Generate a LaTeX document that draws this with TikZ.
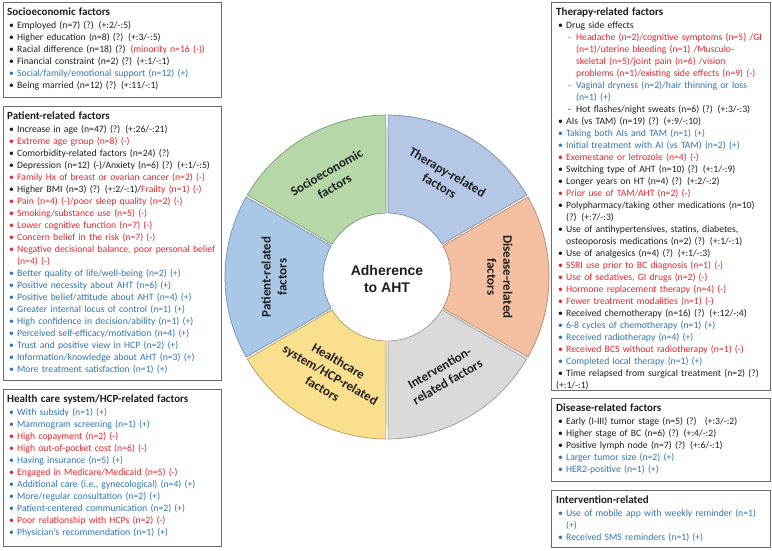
\documentclass[tikz,border=0pt]{standalone}
\usepackage{fontspec}
\setmainfont{Carlito}
\newfontfamily\hubfont{Liberation Sans}
\definecolor{ink}{HTML}{1E1E1E}
\definecolor{neg}{HTML}{E8262B}
\definecolor{pos}{HTML}{2E75B6}
\definecolor{frame}{HTML}{6A6A6A}
\definecolor{socio}{HTML}{B6D7A8}
\definecolor{therapy}{HTML}{B4C7E7}
\definecolor{disease}{HTML}{F5C0A2}
\definecolor{interv}{HTML}{DADADA}
\definecolor{health}{HTML}{FADF8E}
\definecolor{patient}{HTML}{A9C8E8}
\tikzset{
  panel/.style={draw=frame, line width=1.4pt, fill=white, anchor=north west,
                inner sep=0pt},
  % the list itself sits on the panel, top left, with no frame of its own
  factors/.style={anchor=north west, inner sep=0pt, text width=212pt,
                  text=ink, font=\listfont},
  segment/.style={line width=0.7pt},
  seglabel/.style={font=\fontsize{13}{16}\selectfont\bfseries, align=center,
                   text=ink, inner sep=1pt},
  hub/.style={font=\hubfont\bfseries\fontsize{14}{17}\selectfont, align=center,
              text=ink},
}
\newcommand{\listfont}{\fontsize{9.7}{12}\selectfont\raggedright}
\newcommand{\head}[1]{{\fontsize{11}{12}\selectfont\bfseries #1}\par\vspace{0.6pt}}
% one bullet per factor; the colour gives the direction of the effect
\newcommand{\fitem}[2][ink]{\par\hangindent=10pt\hangafter=1\noindent
  {\color{#1}\hbox to 10pt{\hspace{2pt}\textbullet\hfil}#2}}
\newcommand{\fsub}[2][ink]{\par\hangindent=20pt\hangafter=1\noindent
  {\color{#1}\hbox to 20pt{\hspace{12pt}-\hfil}#2}}

\begin{document}
\begin{tikzpicture}[x=1pt, y=1pt]
  \useasboundingbox[fill=white] (0,0) rectangle (772,550);

  % --- left column -------------------------------------------------------
  \node[panel, minimum width=218pt, minimum height=95pt]  (socioPanel)   at (3,548) {};
  \node[panel, minimum width=218pt, minimum height=274pt] (patientPanel) at (3,444) {};
  \node[panel, minimum width=218pt, minimum height=157pt] (healthPanel)  at (3,161) {};

  \node[factors] (socioList) at ([xshift=4pt,yshift=-6pt]socioPanel.north west) {%
    \head{Socioeconomic factors}
    \fitem{Employed (n=7) (?) (+:2/-:5)}
    \fitem{Higher education (n=8) (?) (+:3/-:5)}
    \fitem{Racial difference (n=18) (?) \textcolor{neg}{(minority n=16 (-))}}
    \fitem{Financial constraint (n=2) (?) (+:1/-:1)}
    \fitem[pos]{Social/family/emotional support (n=12) (+)}
    \fitem{Being married (n=12) (?) (+:11/-:1)}};

  \node[factors] (patientList) at ([xshift=4pt,yshift=-6pt]patientPanel.north west) {%
    \head{Patient-related factors}
    \fitem{Increase in age (n=47) (?) (+:26/-:21)}
    \fitem[neg]{Extreme age group (n=8) (-)}
    \fitem{Comorbidity-related factors (n=24) (?)}
    \fitem{Depression (n=12) (-)/Anxiety (n=6) (?) (+:1/-:5)}
    \fitem[neg]{Family Hx of breast or ovarian cancer (n=2) (-)}
    \fitem{Higher BMI (n=3) (?) (+:2/-:1)/\textcolor{neg}{Frailty (n=1) (-)}}
    \fitem[neg]{Pain (n=4) (-)/poor sleep quality (n=2) (-)}
    \fitem[neg]{Smoking/substance use (n=5) (-)}
    \fitem[neg]{Lower cognitive function (n=7) (-)}
    \fitem[neg]{Concern belief in the risk (n=7) (-)}
    \fitem[neg]{Negative decisional balance, poor personal belief\newline (n=4) (-)}
    \fitem[pos]{Better quality of life/well-being (n=2) (+)}
    \fitem[pos]{Positive necessity about AHT (n=6) (+)}
    \fitem[pos]{Positive belief/attitude about AHT (n=4) (+)}
    \fitem[pos]{Greater internal locus of control (n=1) (+)}
    \fitem[pos]{High confidence in decision/ability (n=1) (+)}
    \fitem[pos]{Perceived self-efficacy/motivation (n=4) (+)}
    \fitem[pos]{Trust and positive view in HCP (n=2) (+)}
    \fitem[pos]{Information/knowledge about AHT (n=3) (+)}
    \fitem[pos]{More treatment satisfaction (n=1) (+)}};

  \node[factors] (healthList) at ([xshift=4pt,yshift=-6pt]healthPanel.north west) {%
    \head{Health care system/HCP-related factors}
    \fitem[pos]{With subsidy (n=1) (+)}
    \fitem[pos]{Mammogram screening (n=1) (+)}
    \fitem[neg]{High copayment (n=2) (-)}
    \fitem[neg]{High out-of-pocket cost (n=6) (-)}
    \fitem[pos]{Having insurance (n=5) (+)}
    \fitem[neg]{Engaged in Medicare/Medicaid (n=5) (-)}
    \fitem[pos]{Additional care (i.e., gynecological) (n=4) (+)}
    \fitem[pos]{More/regular consultation (n=2) (+)}
    \fitem[pos]{Patient-centered communication (n=2) (+)}
    \fitem[neg]{Poor relationship with HCPs (n=2) (-)}
    \fitem[pos]{Physician’s recommendation (n=1) (+)}};

  % --- right column ------------------------------------------------------
  \node[panel, minimum width=219pt, minimum height=388pt] (therapyPanel) at (551,548) {};
  \node[panel, minimum width=219pt, minimum height=83pt]  (diseasePanel) at (551,152) {};
  \node[panel, minimum width=219pt, minimum height=57pt]  (intervPanel)  at (551,60) {};

  \node[factors] (therapyList) at ([xshift=5pt,yshift=-6pt]therapyPanel.north west) {%
    \head{Therapy-related factors}
    \fitem{Drug side effects}
    \fsub[neg]{Headache (n=2)/cognitive symptoms (n=5) /GI\newline
      (n=1)/uterine bleeding (n=1) /Musculo-\newline
      skeletal (n=5)/joint pain (n=6) /vision\newline
      problems (n=1)/existing side effects (n=9) (-)}
    \fsub[pos]{Vaginal dryness (n=2)/hair thinning or loss\newline (n=1) (+)}
    \fsub{Hot flashes/night sweats (n=6) (?) (+:3/-:3)}
    \fitem{AIs (vs TAM) (n=19) (?) (+:9/-:10)}
    \fitem[pos]{Taking both AIs and TAM (n=1) (+)}
    \fitem[pos]{Initial treatment with AI (vs TAM) (n=2) (+)}
    \fitem[neg]{Exemestane or letrozole (n=4) (-)}
    \fitem{Switching type of AHT (n=10) (?) (+:1/-:9)}
    \fitem{Longer years on HT (n=4) (?) (+:2/-:2)}
    \fitem[neg]{Prior use of TAM/AHT (n=2) (-)}
    \fitem{Polypharmacy/taking other medications (n=10)\newline (?) (+:7/-:3)}
    \fitem{Use of antihypertensives, statins, diabetes,\newline
      osteoporosis medications (n=2) (?) (+:1/-:1)}
    \fitem{Use of analgesics (n=4) (?) (+:1/-:3)}
    \fitem[neg]{SSRI use prior to BC diagnosis (n=1) (-)}
    \fitem[neg]{Use of sedatives, GI drugs (n=2) (-)}
    \fitem[neg]{Hormone replacement therapy (n=4) (-)}
    \fitem[neg]{Fewer treatment modalities (n=1) (-)}
    \fitem{Received chemotherapy (n=16) (?) (+:12/-:4)}
    \fitem[pos]{6-8 cycles of chemotherapy (n=1) (+)}
    \fitem[pos]{Received radiotherapy (n=4) (+)}
    \fitem[neg]{Received BCS without radiotherapy (n=1) (-)}
    \fitem[pos]{Completed local therapy (n=1) (+)}
    \fitem{Time relapsed from surgical treatment (n=2) (?)\newline (+:1/-:1)}};

  \node[factors] (diseaseList) at ([xshift=5pt,yshift=-6pt]diseasePanel.north west) {%
    \head{Disease-related factors}
    \fitem{Early (I-III) tumor stage (n=5) (?) \ (+:3/-:2)}
    \fitem{Higher stage of BC (n=6) (?) (+:4/-:2)}
    \fitem{Positive lymph node (n=7) (?) (+:6/-:1)}
    \fitem[pos]{Larger tumor size (n=2) (+)}
    \fitem[pos]{HER2-positive (n=1) (+)}};

  \node[factors] (intervList) at ([xshift=5pt,yshift=-6pt]intervPanel.north west) {%
    \head{Intervention-related}
    \fitem[pos]{Use of mobile app with weekly reminder (n=1)\newline (+)}
    \fitem[pos]{Received SMS reminders (n=1) (+)}};

  % --- the wheel: six sectors round the hub --------------------------------
  \begin{scope}[shift={(387,273)}]
    \foreach \mid/\col/\name/\txt/\rot in {
        120/socio/segSocio/{Socioeconomic\\factors}/30,
        60/therapy/segTherapy/{Therapy-related\\factors}/-30,
        0/disease/segDisease/{Disease-related\\factors}/-90,
        -60/interv/segInterv/{Intervention-\\related factors}/30,
        -120/health/segHealth/{Healthcare\\system/HCP-related\\factors}/-30,
        180/patient/segPatient/{Patient-related\\factors}/90} {
      \filldraw[segment, fill=\col, draw=\col!70!black]
        (\mid+29.6:162pt) arc[start angle=\mid+29.6, end angle=\mid-29.6, radius=162pt]
        -- (\mid-29.2:64pt) arc[start angle=\mid-29.2, end angle=\mid+29.2, radius=64pt]
        -- cycle;
      \node[seglabel, rotate=\rot] (\name) at (\mid:113pt) {\txt};
    }
    \node[hub] (hub) at (0,-2) {Adherence\\to AHT};
  \end{scope}

\end{tikzpicture}
\end{document}
